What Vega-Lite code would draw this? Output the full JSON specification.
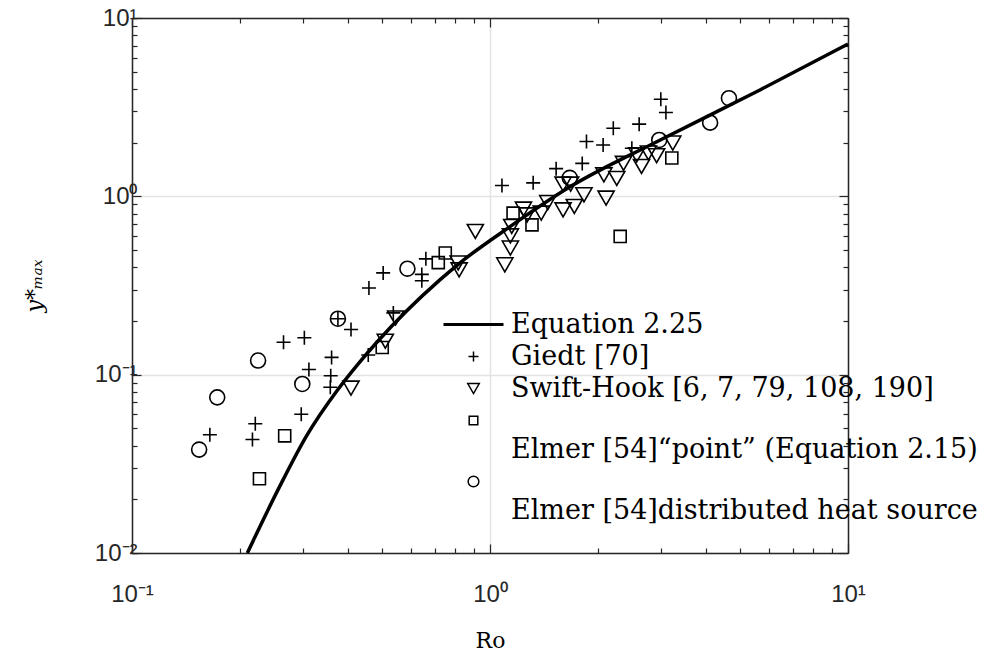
{
  "$schema": "https://vega.github.io/schema/vega-lite/v6.json",
  "width": 716,
  "height": 535,
  "autosize": {"type": "none"},
  "padding": {"left": 132, "top": 18, "right": 138, "bottom": 105},
  "background": "white",
  "config": {
    "view": {"stroke": null},
    "axis": {
      "domainColor": "#262626",
      "domainWidth": 1.5,
      "tickColor": "#262626",
      "tickWidth": 1.2,
      "labelColor": "#262626",
      "labelFont": "Liberation Sans",
      "labelFontSize": 24,
      "titleFont": "DejaVu Serif",
      "titleFontSize": 22,
      "titleFontWeight": "normal",
      "titleColor": "black",
      "gridColor": "#e3e3e3",
      "gridWidth": 1.5,
      "labelOverlap": false,
      "labelBound": false,
      "labelFlush": false
    },
    "legend": {
      "orient": "none",
      "legendX": 322,
      "legendY": 287,
      "title": null,
      "padding": 6,
      "strokeColor": null,
      "labelFont": "DejaVu Serif",
      "labelFontSize": 27,
      "labelColor": "black",
      "labelLimit": 1000,
      "labelOffset": 24,
      "rowPadding": 4,
      "symbolSize": 100,
      "symbolStrokeColor": "black",
      "symbolFillColor": "transparent",
      "symbolStrokeWidth": 1.5
    }
  },
  "data": {
    "values": [
      {"series": "Equation 2.25", "Ro": 0.21, "y": 0.0100},
      {"series": "Equation 2.25", "Ro": 0.2588, "y": 0.0237},
      {"series": "Equation 2.25", "Ro": 0.3076, "y": 0.0455},
      {"series": "Equation 2.25", "Ro": 0.3733, "y": 0.081},
      {"series": "Equation 2.25", "Ro": 0.4285, "y": 0.115},
      {"series": "Equation 2.25", "Ro": 0.483, "y": 0.152},
      {"series": "Equation 2.25", "Ro": 0.7244, "y": 0.34},
      {"series": "Equation 2.25", "Ro": 0.82, "y": 0.42},
      {"series": "Equation 2.25", "Ro": 1.14, "y": 0.678},
      {"series": "Equation 2.25", "Ro": 1.673, "y": 1.13},
      {"series": "Equation 2.25", "Ro": 2.99, "y": 2.07},
      {"series": "Equation 2.25", "Ro": 5.675, "y": 3.95},
      {"series": "Equation 2.25", "Ro": 10, "y": 7.15},

      {"series": "Giedt [70]", "Ro": 0.165, "y": 0.046},
      {"series": "Giedt [70]", "Ro": 0.217, "y": 0.0433},
      {"series": "Giedt [70]", "Ro": 0.221, "y": 0.0531},
      {"series": "Giedt [70]", "Ro": 0.265, "y": 0.152},
      {"series": "Giedt [70]", "Ro": 0.303, "y": 0.161},
      {"series": "Giedt [70]", "Ro": 0.312, "y": 0.107},
      {"series": "Giedt [70]", "Ro": 0.297, "y": 0.060},
      {"series": "Giedt [70]", "Ro": 0.376, "y": 0.206},
      {"series": "Giedt [70]", "Ro": 0.409, "y": 0.179},
      {"series": "Giedt [70]", "Ro": 0.361, "y": 0.125},
      {"series": "Giedt [70]", "Ro": 0.359, "y": 0.0986},
      {"series": "Giedt [70]", "Ro": 0.358, "y": 0.085},
      {"series": "Giedt [70]", "Ro": 0.459, "y": 0.306},
      {"series": "Giedt [70]", "Ro": 0.457, "y": 0.129},
      {"series": "Giedt [70]", "Ro": 0.537, "y": 0.222},
      {"series": "Giedt [70]", "Ro": 0.503, "y": 0.372},
      {"series": "Giedt [70]", "Ro": 0.645, "y": 0.365},
      {"series": "Giedt [70]", "Ro": 0.645, "y": 0.336},
      {"series": "Giedt [70]", "Ro": 0.662, "y": 0.446},
      {"series": "Giedt [70]", "Ro": 1.08, "y": 1.15},
      {"series": "Giedt [70]", "Ro": 1.32, "y": 1.19},
      {"series": "Giedt [70]", "Ro": 1.53, "y": 1.43},
      {"series": "Giedt [70]", "Ro": 1.81, "y": 1.53},
      {"series": "Giedt [70]", "Ro": 1.86, "y": 2.03},
      {"series": "Giedt [70]", "Ro": 2.07, "y": 1.94},
      {"series": "Giedt [70]", "Ro": 2.21, "y": 2.41},
      {"series": "Giedt [70]", "Ro": 2.61, "y": 2.54},
      {"series": "Giedt [70]", "Ro": 2.49, "y": 1.86},
      {"series": "Giedt [70]", "Ro": 3.0, "y": 3.5},
      {"series": "Giedt [70]", "Ro": 3.1, "y": 2.95},

      {"series": "Swift-Hook [6, 7, 79, 108, 190]", "Ro": 0.409, "y": 0.084},
      {"series": "Swift-Hook [6, 7, 79, 108, 190]", "Ro": 0.51, "y": 0.154},
      {"series": "Swift-Hook [6, 7, 79, 108, 190]", "Ro": 0.545, "y": 0.208},
      {"series": "Swift-Hook [6, 7, 79, 108, 190]", "Ro": 0.815, "y": 0.423},
      {"series": "Swift-Hook [6, 7, 79, 108, 190]", "Ro": 0.82, "y": 0.387},
      {"series": "Swift-Hook [6, 7, 79, 108, 190]", "Ro": 0.91, "y": 0.635},
      {"series": "Swift-Hook [6, 7, 79, 108, 190]", "Ro": 1.10, "y": 0.413},
      {"series": "Swift-Hook [6, 7, 79, 108, 190]", "Ro": 1.14, "y": 0.60},
      {"series": "Swift-Hook [6, 7, 79, 108, 190]", "Ro": 1.14, "y": 0.513},
      {"series": "Swift-Hook [6, 7, 79, 108, 190]", "Ro": 1.15, "y": 0.678},
      {"series": "Swift-Hook [6, 7, 79, 108, 190]", "Ro": 1.24, "y": 0.848},
      {"series": "Swift-Hook [6, 7, 79, 108, 190]", "Ro": 1.27, "y": 0.787},
      {"series": "Swift-Hook [6, 7, 79, 108, 190]", "Ro": 1.39, "y": 0.805},
      {"series": "Swift-Hook [6, 7, 79, 108, 190]", "Ro": 1.45, "y": 0.923},
      {"series": "Swift-Hook [6, 7, 79, 108, 190]", "Ro": 1.60, "y": 0.84},
      {"series": "Swift-Hook [6, 7, 79, 108, 190]", "Ro": 1.72, "y": 0.877},
      {"series": "Swift-Hook [6, 7, 79, 108, 190]", "Ro": 1.83, "y": 1.02},
      {"series": "Swift-Hook [6, 7, 79, 108, 190]", "Ro": 1.60, "y": 1.17},
      {"series": "Swift-Hook [6, 7, 79, 108, 190]", "Ro": 1.68, "y": 1.17},
      {"series": "Swift-Hook [6, 7, 79, 108, 190]", "Ro": 2.11, "y": 0.977},
      {"series": "Swift-Hook [6, 7, 79, 108, 190]", "Ro": 2.08, "y": 1.32},
      {"series": "Swift-Hook [6, 7, 79, 108, 190]", "Ro": 2.26, "y": 1.26},
      {"series": "Swift-Hook [6, 7, 79, 108, 190]", "Ro": 2.36, "y": 1.53},
      {"series": "Swift-Hook [6, 7, 79, 108, 190]", "Ro": 2.65, "y": 1.47},
      {"series": "Swift-Hook [6, 7, 79, 108, 190]", "Ro": 2.57, "y": 1.71},
      {"series": "Swift-Hook [6, 7, 79, 108, 190]", "Ro": 2.77, "y": 1.75},
      {"series": "Swift-Hook [6, 7, 79, 108, 190]", "Ro": 2.92, "y": 1.69},
      {"series": "Swift-Hook [6, 7, 79, 108, 190]", "Ro": 3.24, "y": 1.99},

      {"series": "Elmer [54]“point” (Equation 2.15)", "Ro": 0.227, "y": 0.0261},
      {"series": "Elmer [54]“point” (Equation 2.15)", "Ro": 0.267, "y": 0.0454},
      {"series": "Elmer [54]“point” (Equation 2.15)", "Ro": 0.50, "y": 0.142},
      {"series": "Elmer [54]“point” (Equation 2.15)", "Ro": 0.717, "y": 0.425},
      {"series": "Elmer [54]“point” (Equation 2.15)", "Ro": 0.75, "y": 0.481},
      {"series": "Elmer [54]“point” (Equation 2.15)", "Ro": 1.16, "y": 0.805},
      {"series": "Elmer [54]“point” (Equation 2.15)", "Ro": 1.31, "y": 0.692},
      {"series": "Elmer [54]“point” (Equation 2.15)", "Ro": 2.31, "y": 0.596},
      {"series": "Elmer [54]“point” (Equation 2.15)", "Ro": 3.22, "y": 1.64},

      {"series": "Elmer [54]distributed heat source", "Ro": 0.154, "y": 0.038},
      {"series": "Elmer [54]distributed heat source", "Ro": 0.173, "y": 0.0746},
      {"series": "Elmer [54]distributed heat source", "Ro": 0.225, "y": 0.12},
      {"series": "Elmer [54]distributed heat source", "Ro": 0.299, "y": 0.0887},
      {"series": "Elmer [54]distributed heat source", "Ro": 0.376, "y": 0.206},
      {"series": "Elmer [54]distributed heat source", "Ro": 0.588, "y": 0.393},
      {"series": "Elmer [54]distributed heat source", "Ro": 1.67, "y": 1.27},
      {"series": "Elmer [54]distributed heat source", "Ro": 2.97, "y": 2.07},
      {"series": "Elmer [54]distributed heat source", "Ro": 4.12, "y": 2.59},
      {"series": "Elmer [54]distributed heat source", "Ro": 4.65, "y": 3.55}
    ]
  },
  "layer": [
    {
      "transform": [{"filter": "datum.series == 'Equation 2.25'"}],
      "mark": {"type": "line", "color": "black", "strokeWidth": 3.5, "interpolate": "monotone"},
      "encoding": {
        "x": {
          "field": "Ro", "type": "quantitative",
          "scale": {"type": "log", "domain": [0.1, 10], "nice": false},
          "axis": {
            "orient": "bottom",
            "title": "Ro",
            "titlePadding": 20,
            "values": [0.1,0.2,0.3,0.4,0.5,0.6,0.7,0.8,0.9,1,2,3,4,5,6,7,8,9,10],
            "labelExpr": "datum.value == 0.1 ? '10⁻¹' : datum.value == 1 ? '10⁰' : datum.value == 10 ? '10¹' : ''",
            "labelPadding": 38,
            "tickSize": {"condition": {"test": "datum.value == 0.1 || datum.value == 1 || datum.value == 10", "value": -9}, "value": -5},
            "grid": true,
            "gridOpacity": {"condition": {"test": "datum.value == 0.1 || datum.value == 1 || datum.value == 10", "value": 1}, "value": 0}
          }
        },
        "y": {
          "field": "y", "type": "quantitative",
          "scale": {"type": "log", "domain": [0.01, 10], "nice": false},
          "axis": {
            "orient": "left",
            "title": "y*ₘₐₓ",
            "titleFontStyle": "italic",
            "titlePadding": 48,
            "values": [0.01,0.02,0.03,0.04,0.05,0.06,0.07,0.08,0.09,0.1,0.2,0.3,0.4,0.5,0.6,0.7,0.8,0.9,1,2,3,4,5,6,7,8,9,10],
            "labelExpr": "datum.value == 0.01 ? '10⁻²' : datum.value == 0.1 ? '10⁻¹' : datum.value == 1 ? '10⁰' : datum.value == 10 ? '10¹' : ''",
            "labelPadding": 4,
            "tickSize": {"condition": {"test": "datum.value == 0.01 || datum.value == 0.1 || datum.value == 1 || datum.value == 10", "value": -9}, "value": -5},
            "grid": true,
            "gridOpacity": {"condition": {"test": "datum.value == 0.01 || datum.value == 0.1 || datum.value == 1 || datum.value == 10", "value": 1}, "value": 0}
          }
        }
      }
    },
    {
      "transform": [{"filter": "datum.series != 'Equation 2.25'"}],
      "mark": {"type": "point", "filled": false, "color": "black", "strokeWidth": 1.6, "size": 196, "opacity": 1},
      "encoding": {
        "x": {
          "field": "Ro", "type": "quantitative",
          "scale": {"type": "log", "domain": [0.1, 10], "nice": false},
          "axis": {
            "orient": "top", "title": null, "labels": false, "grid": false,
            "values": [0.1,0.2,0.3,0.4,0.5,0.6,0.7,0.8,0.9,1,2,3,4,5,6,7,8,9,10],
            "tickSize": {"condition": {"test": "datum.value == 0.1 || datum.value == 1 || datum.value == 10", "value": -9}, "value": -5}
          }
        },
        "y": {
          "field": "y", "type": "quantitative",
          "scale": {"type": "log", "domain": [0.01, 10], "nice": false},
          "axis": {
            "orient": "right", "title": null, "labels": false, "grid": false,
            "values": [0.01,0.02,0.03,0.04,0.05,0.06,0.07,0.08,0.09,0.1,0.2,0.3,0.4,0.5,0.6,0.7,0.8,0.9,1,2,3,4,5,6,7,8,9,10],
            "tickSize": {"condition": {"test": "datum.value == 0.01 || datum.value == 0.1 || datum.value == 1 || datum.value == 10", "value": -9}, "value": -5}
          }
        },
        "shape": {
          "field": "series", "type": "nominal",
          "scale": {
            "domain": ["Equation 2.25", "Giedt [70]", "Swift-Hook [6, 7, 79, 108, 190]", "Elmer [54]“point” (Equation 2.15)", "Elmer [54]distributed heat source"],
            "range": ["M-6,-0.16H6M-6,0H6M-6,0.16H6", "M-1,0H1M0,-1V1", "M-1.15,-1L1.15,-1L0,1Z", "M-0.86,-0.86H0.86V0.86H-0.86Z", "M1.07,0A1.07,1.07,0,1,1,-1.07,0A1.07,1.07,0,1,1,1.07,0Z"]
          },
          "legend": {
            "labelExpr": "indexof(datum.label, 'Elmer') == 0 ? ['', datum.label] : datum.label",
            "encode": {
              "labels": {"update": {"baseline": {"signal": "indexof(datum.label, 'Elmer') == 0 ? 'top' : 'middle'"}, "lineHeight": {"value": 20}}}
            }
          }
        }
      }
    }
  ],
  "resolve": {"axis": {"x": "independent", "y": "independent"}}
}
